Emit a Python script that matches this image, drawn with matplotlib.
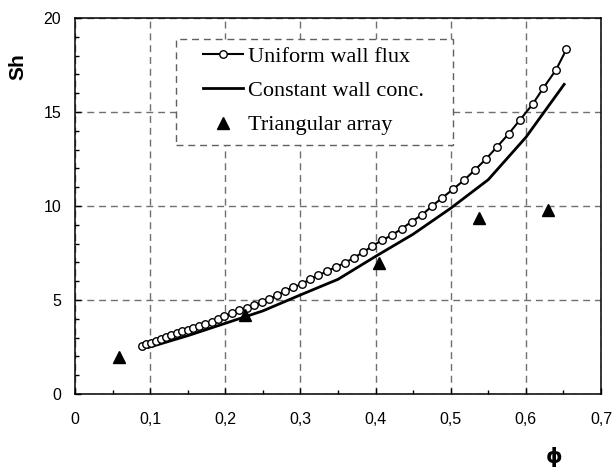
import matplotlib
matplotlib.use('Agg')
import matplotlib.pyplot as plt
from matplotlib.patches import Rectangle
from matplotlib.ticker import MultipleLocator, FuncFormatter

# Uniform wall flux (open circles joined by a line)
phi_flux = [0.0888, 0.0945, 0.1007, 0.1074, 0.1145, 0.1211, 0.1282, 0.1353, 0.1424, 0.150,
            0.1575, 0.165, 0.1734, 0.1819, 0.1899, 0.1987, 0.2085, 0.2183, 0.2285, 0.2387,
            0.2489, 0.2586, 0.2688, 0.2795, 0.2906, 0.3017, 0.3128, 0.3239, 0.3359, 0.3474,
            0.3594, 0.3714, 0.3837, 0.3957, 0.4081, 0.4214, 0.4348, 0.4481, 0.4623, 0.4752,
            0.489, 0.503, 0.518, 0.532, 0.547, 0.562, 0.577, 0.592, 0.609, 0.623, 0.640, 0.654]
sh_flux = [2.57, 2.64, 2.71, 2.82, 2.94, 3.03, 3.12, 3.23, 3.33, 3.42,
           3.51, 3.62, 3.72, 3.85, 3.99, 4.13, 4.31, 4.45, 4.59, 4.73,
           4.88, 5.05, 5.25, 5.50, 5.67, 5.85, 6.10, 6.31, 6.54, 6.76,
           6.98, 7.25, 7.55, 7.87, 8.17, 8.44, 8.79, 9.17, 9.54, 10.0,
           10.44, 10.89, 11.38, 11.91, 12.50, 13.16, 13.83, 14.57, 15.41, 16.26, 17.23, 18.33]

# Constant wall concentration
phi_conc = [0.098, 0.15, 0.20, 0.25, 0.30, 0.35, 0.40, 0.45, 0.50, 0.55, 0.60, 0.651]
sh_conc = [2.48, 3.10, 3.76, 4.42, 5.27, 6.10, 7.32, 8.50, 9.88, 11.40, 13.65, 16.47]

# Triangular array
phi_tri = [0.058, 0.226, 0.405, 0.538, 0.630]
sh_tri = [1.98, 4.20, 6.95, 9.34, 9.79]

xticks = [0, 0.1, 0.2, 0.3, 0.4, 0.5, 0.6, 0.7]
yticks = [0, 5, 10, 15, 20]

fig = plt.figure(figsize=(6.13, 4.67), dpi=100)
ax = fig.add_axes([0.1223, 0.1563, 0.8581, 0.8052])

ax.plot(phi_flux, sh_flux, '-o', color='black', lw=1.5, ms=5.4,
        mfc='white', mec='black', mew=1.0, label='Uniform wall flux', zorder=4)
ax.plot(phi_conc, sh_conc, '-', color='black', lw=2.0, label='Constant wall conc.', zorder=3)
ax.plot(phi_tri, sh_tri, '^', color='black', ms=9, ls='none', label='Triangular array', zorder=5)

ax.set_xlim(0, 0.7)
ax.set_ylim(0, 20)
ax.set_xticks(xticks)
ax.set_yticks(yticks)
ax.xaxis.set_minor_locator(MultipleLocator(0.05))
ax.yaxis.set_minor_locator(MultipleLocator(1))
ax.xaxis.set_major_formatter(FuncFormatter(lambda v, p: ('%g' % round(v, 2)).replace('.', ',')))
ax.yaxis.set_major_formatter(FuncFormatter(lambda v, p: '%g' % v))

ax.tick_params(which='both', direction='in', top=False, right=False, width=1.0)
ax.tick_params(which='major', length=4.5)
ax.tick_params(which='minor', length=3)
ax.tick_params(axis='x', which='major', pad=13, labelsize=11.5)
ax.tick_params(axis='y', which='major', pad=10, labelsize=11.5)
for lab in ax.get_xticklabels() + ax.get_yticklabels():
    lab.set_fontfamily('Liberation Sans')

for s in ax.spines.values():
    s.set_linewidth(1.1)

ax.grid(True, which='major', color='#707070', lw=1.0, ls=(0, (5, 3.5)))
ax.set_axisbelow(True)

# dashed legend box, drawn by hand so its padding matches
box = Rectangle((0.192, 0.662), 0.5266, 0.282, transform=ax.transAxes,
                facecolor='white', edgecolor='#606060', lw=1.0,
                ls=(0, (5, 3.5)), zorder=6)
ax.add_patch(box)

leg = ax.legend(loc='upper left', bbox_to_anchor=(0.243, 0.925),
                prop={'family': 'Liberation Serif', 'size': 16},
                handlelength=1.8, handletextpad=0.25, labelspacing=0.62,
                borderpad=0, borderaxespad=0, frameon=False)
leg.set_zorder(7)

fig.text(18 / 613, 1 - 67 / 467, 'Sh', rotation=90, ha='center', va='center',
         fontsize=15, fontweight='bold', family='Liberation Sans')
fig.text(554 / 613, 1 - 457 / 467, 'ϕ', ha='center', va='center',
         fontsize=15, fontweight='bold', family='DejaVu Sans')

fig.savefig('out.png', dpi=100)
